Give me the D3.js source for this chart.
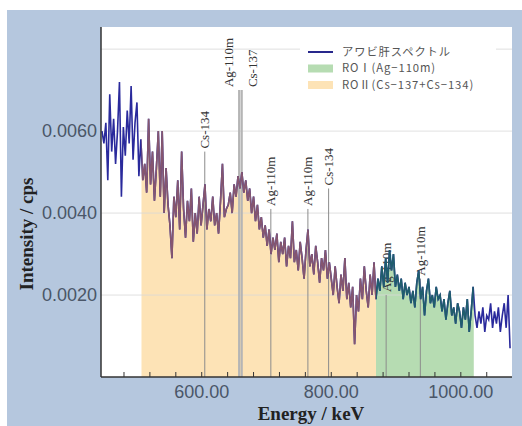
<!DOCTYPE html>
<html>
<head>
<meta charset="utf-8">
<script src="https://cdn.jsdelivr.net/npm/d3@7"></script>
<style>
  body { margin: 0; background: #fff; }
  svg { display: block; }
</style>
</head>
<body>
<svg id="chart" width="522" height="426"></svg>
<script>
// spectrum channels: 446 keV upwards, 3 keV wide; counts in 1e-4 cps
const channelStart = 446, channelWidth = 3
const counts = [
  60, 57, 62, 48, 69, 55, 63, 52, 60, 72, 44, 61, 54, 65, 57, 71, 53, 62, 67, 49, 58,
  48, 52, 45, 63, 47, 55, 43, 51, 60, 44,
  60, 40, 51, 42, 37, 29, 44, 39, 48, 36, 55, 41, 34, 43, 38, 46, 33, 40, 35, 44, 37,
  42, 47, 36, 41, 38, 44, 37, 40, 35, 43, 52, 39, 41,
  42, 45, 40, 47, 44, 49, 46, 50, 45, 48, 43, 46, 40, 44, 38,
  42, 36, 39, 34, 37, 32, 36, 30, 34, 31, 35, 28, 33,
  30, 34, 27, 32, 29, 38, 28, 31, 26, 33, 29, 24, 31, 36, 27, 30, 25, 32, 28, 23, 29, 26, 31, 24, 28,
  24, 20, 27, 22, 18, 25, 21, 29, 19, 23, 17, 22, 8, 20, 16, 24, 19, 27, 21, 17, 25, 20, 28,
  19, 24, 21, 27, 22, 29, 23, 31, 26, 30, 22, 25,
  21, 24, 19, 23, 20, 22, 18, 21, 17, 23, 26, 19, 22, 15, 21, 24, 18, 20, 17, 22, 19,
  20, 16, 19, 14, 18, 21, 15, 17, 13, 18, 16, 12, 17, 14, 19, 11, 16, 22,
  15, 12, 16, 13, 17, 11, 15, 14, 18, 12, 16, 13, 17, 11, 15, 18, 12, 20, 7
]

// regions of interest (keV)
const roiNames = ['ROⅠ(Ag−110m)', 'ROⅡ(Cs−137+Cs−134)']
const roiStart = [869, 507]
const roiEnd = [1020, 869]

// peak markers
const peakEnergy = [604.7, 657.8, 661.7, 706.7, 763.9, 795.9, 884.7, 937.5]
const peakLabel = ['Cs-134', 'Ag-110m', 'Cs-137', 'Ag-110m', 'Ag-110m', 'Cs-134', 'Ag-110m', 'Ag-110m']
const peakTop = [0.0055, 0.0070, 0.0070, 0.0041, 0.0041, 0.0046, 0.0020, 0.0024]

const yTicks = [0.002, 0.004, 0.006]
const yGrid = [0.002, 0.004, 0.006, 0.008]
const xTicks = [600, 800, 1000]

const spectrum = counts.map((c, i) => ({ e: channelStart + i * channelWidth, v: c * 1e-4 }))

const roiFill = ['#b6dcb2', '#fde3b6']
const roiLine = ['#1f5d6c', '#85566f']
const labelNudge = { 1: -11, 2: 11 }

const svg = d3.select('#chart')

svg.append('rect')
  .attr('x', 7).attr('y', 10).attr('width', 515).attr('height', 416)
  .attr('fill', '#b5c7de')

const pLeft = 101, pRight = 512, pTop = 27, pBottom = 377

svg.append('rect')
  .attr('x', pLeft).attr('y', pTop).attr('width', pRight - pLeft).attr('height', pBottom - pTop)
  .attr('fill', '#fff')

const x = d3.scaleLinear().domain([444.5, 1079]).range([pLeft, pRight])
const y = d3.scaleLinear().domain([0, 0.00854]).range([pBottom, pTop])

const defs = svg.append('defs')
defs.append('clipPath').attr('id', 'plotclip')
  .append('rect').attr('x', pLeft).attr('y', pTop).attr('width', pRight - pLeft).attr('height', pBottom - pTop)
roiStart.forEach((s, i) => {
  defs.append('clipPath').attr('id', 'roi' + i)
    .append('rect')
    .attr('x', x(s)).attr('y', pTop)
    .attr('width', x(roiEnd[i]) - x(s)).attr('height', pBottom - pTop)
})

const area = d3.area().x((d) => x(d.e)).y0(y(0)).y1((d) => y(d.v))
const line = d3.line().x((d) => x(d.e)).y((d) => y(d.v))

// ROI fills under the spectrum
roiStart.forEach((s, i) => {
  svg.append('path')
    .datum(spectrum)
    .attr('clip-path', `url(#roi${i})`)
    .attr('fill', roiFill[i])
    .attr('d', area)
})

// grid
svg.append('g')
  .selectAll('line')
  .data(yGrid)
  .join('line')
  .attr('x1', pLeft).attr('x2', pRight)
  .attr('y1', (d) => y(d)).attr('y2', (d) => y(d))
  .attr('stroke', '#d8d8d8')
  .attr('stroke-opacity', 0.8)

// peak markers
const peaks = svg.append('g')
peaks.selectAll('line')
  .data(peakEnergy)
  .join('line')
  .attr('x1', (d) => x(d)).attr('x2', (d) => x(d))
  .attr('y1', y(0)).attr('y2', (d, i) => y(peakTop[i]))
  .attr('stroke', (d, i) => (i === 1 || i === 2 ? '#b5b5b5' : '#8c8c8c'))
  .attr('stroke-width', (d, i) => (i === 1 || i === 2 ? 2.2 : 1))

// spectrum
svg.append('path')
  .datum(spectrum)
  .attr('clip-path', 'url(#plotclip)')
  .attr('fill', 'none')
  .attr('stroke', '#2a2a9c')
  .attr('stroke-width', 1.6)
  .attr('d', line)

roiStart.forEach((s, i) => {
  svg.append('path')
    .datum(spectrum)
    .attr('clip-path', `url(#roi${i})`)
    .attr('fill', 'none')
    .attr('stroke', roiLine[i])
    .attr('stroke-width', 1.6)
    .attr('d', line)
})

peaks.selectAll('text')
  .data(peakEnergy)
  .join('text')
  .attr('transform', (d, i) => `translate(${x(d) + (labelNudge[i] || 0)}, ${y(peakTop[i]) - 3}) rotate(-90)`)
  .attr('dy', '0.35em')
  .attr('font-family', '"Liberation Serif", serif')
  .attr('font-size', 13)
  .attr('fill', '#333')
  .text((d, i) => peakLabel[i])

// axes
const xAxis = svg.append('g')
xAxis.selectAll('line')
  .data(d3.range(480, 1079, 40))
  .join('line')
  .attr('x1', (d) => x(d)).attr('x2', (d) => x(d))
  .attr('y1', pBottom).attr('y2', pBottom - 5)
  .attr('stroke', '#333')
xAxis.selectAll('text')
  .data(xTicks)
  .join('text')
  .attr('x', (d) => x(d))
  .attr('y', 398)
  .attr('text-anchor', 'middle')
  .attr('font-family', '"Liberation Sans", Arial, sans-serif')
  .attr('font-size', 18)
  .attr('fill', '#4a5668')
  .text((d) => d3.format('.2f')(d))

svg.append('g')
  .selectAll('text')
  .data(yTicks)
  .join('text')
  .attr('x', 97)
  .attr('y', (d) => y(d))
  .attr('dy', '0.35em')
  .attr('text-anchor', 'end')
  .attr('font-family', '"Liberation Sans", Arial, sans-serif')
  .attr('font-size', 18)
  .attr('fill', '#4a5668')
  .text((d) => d3.format('.4f')(d))

svg.append('line')
  .attr('x1', pLeft).attr('x2', pLeft).attr('y1', pTop).attr('y2', pBottom)
  .attr('stroke', '#333').attr('stroke-width', 1.5)
svg.append('line')
  .attr('x1', pLeft).attr('x2', pRight).attr('y1', pBottom).attr('y2', pBottom)
  .attr('stroke', '#333').attr('stroke-width', 1.5)

svg.append('text')
  .attr('x', 311).attr('y', 420)
  .attr('text-anchor', 'middle')
  .attr('font-family', '"Liberation Serif", serif')
  .attr('font-weight', 'bold')
  .attr('font-size', 19)
  .attr('fill', '#222')
  .text('Energy / keV')

svg.append('text')
  .attr('transform', 'translate(33, 234) rotate(-90)')
  .attr('text-anchor', 'middle')
  .attr('font-family', '"Liberation Serif", serif')
  .attr('font-weight', 'bold')
  .attr('font-size', 19)
  .attr('fill', '#222')
  .text('Intensity / cps')

// legend
const legend = svg.append('g')
legend.append('rect')
  .attr('x', 300).attr('y', 42).attr('width', 196).attr('height', 52)
  .attr('fill', '#fff')
legend.append('line')
  .attr('x1', 308).attr('x2', 333).attr('y1', 52).attr('y2', 52)
  .attr('stroke', '#28288c').attr('stroke-width', 2)
legend.selectAll('rect.key')
  .data(roiNames)
  .join('rect')
  .attr('class', 'key')
  .attr('x', 308).attr('y', (d, i) => 64.5 + i * 16.5)
  .attr('width', 25).attr('height', 8)
  .attr('fill', (d, i) => roiFill[i])
legend.selectAll('text')
  .data(['アワビ肝スペクトル', ...roiNames])
  .join('text')
  .attr('x', 342)
  .attr('y', (d, i) => 52 + i * 16.5)
  .attr('dy', '0.35em')
  .attr('font-family', '"Noto Sans CJK JP", sans-serif')
  .attr('font-size', 11.3)
  .attr('letter-spacing', 0.9)
  .attr('fill', '#555')
  .text((d) => d)
</script>
</body>
</html>
